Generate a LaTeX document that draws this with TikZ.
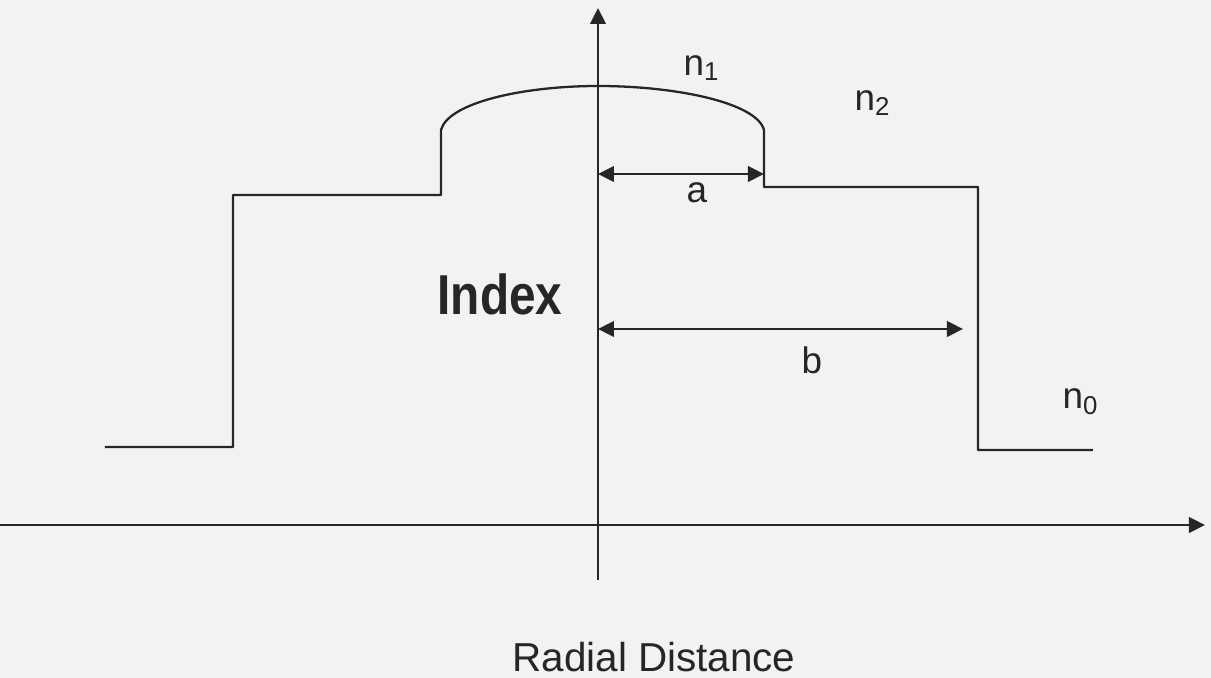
\documentclass[tikz,border=0pt]{standalone}
\usepackage{fontspec}
\usepackage{graphicx}
\setmainfont{Liberation Sans}
\usetikzlibrary{arrows.meta,positioning}
\definecolor{ink}{HTML}{262626}
\definecolor{paper}{HTML}{F2F2F2}

\begin{document}
\begin{tikzpicture}[>={Triangle[length=1.6mm,width=1.55mm]},ink,line width=0.65pt,
  lbl/.style={font=\fontsize{10.5}{12}\selectfont,inner sep=1pt}]
\fill[paper] (-5.98,-1.53) rectangle (6.13,5.25);
\useasboundingbox (-5.98,-1.53) rectangle (6.13,5.25);
% axes
\coordinate (o) at (0,0);
\coordinate (ytop) at (0,5.17);\coordinate (ybot) at (0,-0.55);
\coordinate (xl) at (-5.98,0);\coordinate (xr) at (6.07,0);
\draw[->] (ybot)--(ytop);
\draw[->] (xl)--(xr);
% index profile
\coordinate (cl) at (-1.57,3.95);\coordinate (cr) at (1.66,3.95);
\draw[line join=round] (-4.93,0.78)--(-3.65,0.78)--(-3.65,3.30)--(-1.57,3.30)--(cl)
  .. controls (-1.50,4.22) and (-0.76,4.39) .. (0,4.39)
  .. controls (0.79,4.39) and (1.59,4.22) .. (cr)
  --(1.66,3.38)--(3.80,3.38)--(3.80,0.75)--(4.95,0.75);
% radii
\coordinate (a0) at (0,3.51);\coordinate (a1) at (1.66,3.51);
\coordinate (b0) at (0,1.96);\coordinate (b1) at (3.65,1.96);
\draw[<->] (a0)--(a1);
\draw[<->] (b0)--(b1);
\node[lbl] (la) at (0.99,3.32) {a};
\node[lbl] (lb) at (2.14,1.65) {b};
\node[lbl] (n1) at (1.04,4.57) {n\textsubscript{1}};
\node[lbl] (n2) at (2.75,4.22) {n\textsubscript{2}};
\node[lbl] (n0) at (4.83,1.23) {n\textsubscript{0}};
\node[font=\fontsize{16}{18}\selectfont\bfseries] (idx) at (-0.98,2.31) {\scalebox{0.85}[1]{Index}};
\node[font=\fontsize{11.5}{14}\selectfont] (rd) at (0.56,-1.32) {Radial Distance};
\end{tikzpicture}
\end{document}
